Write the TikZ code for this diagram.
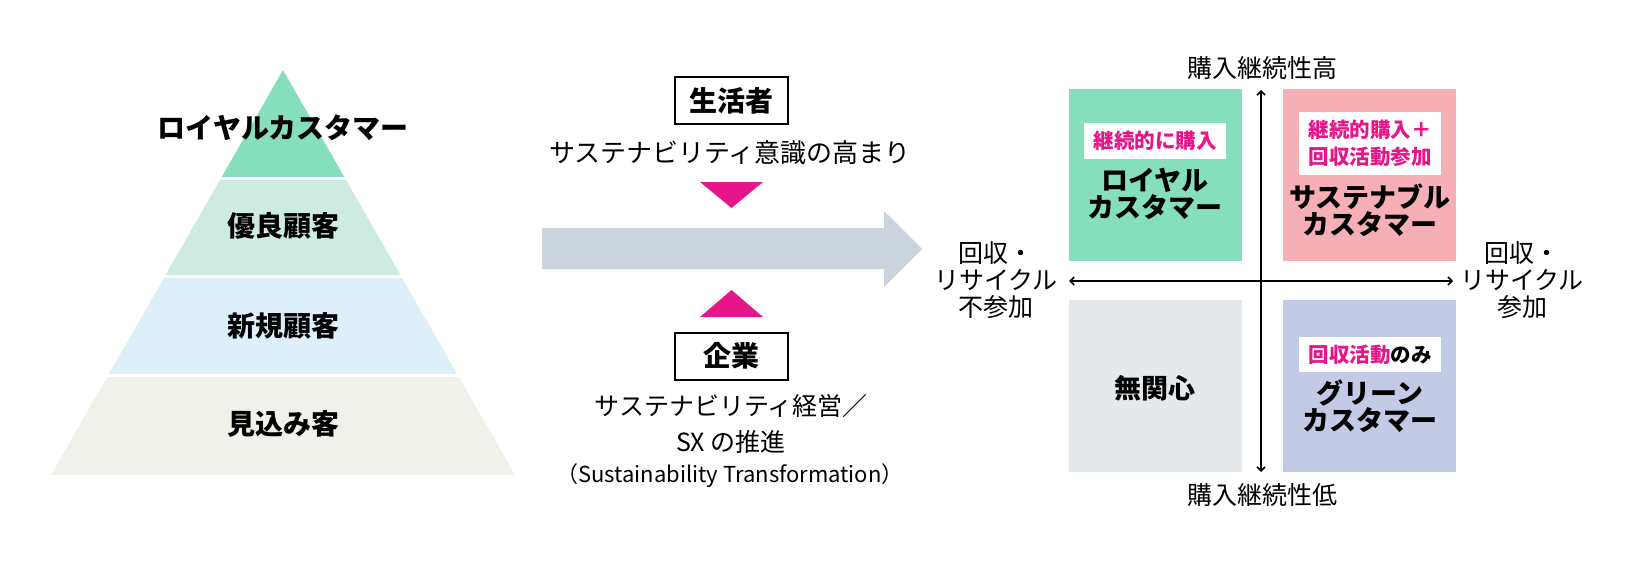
\documentclass[tikz,border=0pt]{standalone}
\usepackage{fontspec}
\setmainfont{Noto Sans CJK JP}
\usetikzlibrary{arrows.meta}
\definecolor{mint}{HTML}{86DFBC}
\definecolor{pyrtwo}{HTML}{CDEBE0}
\definecolor{pyrthree}{HTML}{DDF0F9}
\definecolor{pyrfour}{HTML}{F0F1EA}
\definecolor{pinkq}{HTML}{F7AFB6}
\definecolor{grayq}{HTML}{E6E9EC}
\definecolor{lavq}{HTML}{C2CAE6}
\definecolor{magent}{HTML}{E6168A}
\definecolor{arrowgray}{HTML}{CBD3DC}
\tikzset{
  tiertext/.style={font=\fontsize{28}{30}\selectfont\bfseries, inner sep=0},
  actorbox/.style={draw=black, line width=2pt, minimum width=113, minimum height=47, inner sep=0, font=\fontsize{28}{30}\selectfont\bfseries},
  bodytext/.style={font=\fontsize{25}{36}\selectfont, inner sep=0, align=center},
  quad/.style={inner sep=0, minimum width=173, minimum height=172},
  qname/.style={font=\fontsize{27}{27}\selectfont\bfseries, inner sep=0, align=center},
  tagbox/.style={fill=white, inner sep=0, minimum width=142, align=center, text=magent, font=\fontsize{20.5}{27}\selectfont\bfseries},
  axislabel/.style={font=\fontsize{25}{27}\selectfont, inner sep=0, align=center},
  axisline/.style={line width=1.6pt, {Straight Barb[length=4pt,width=8pt]}-{Straight Barb[length=4pt,width=8pt]}},
  mark tri/.style={fill=magent, draw=none}
}
\begin{document}
\begin{tikzpicture}[x=1pt,y=-1pt]
\useasboundingbox (0,0) rectangle (1628,570);
% pyramid
\begin{scope}
\clip (283,70) -- (515,475) -- (51,475) -- cycle;
\fill[mint] (0,60) rectangle (600,177);
\fill[pyrtwo] (0,180) rectangle (600,275);
\fill[pyrthree] (0,278) rectangle (600,374);
\fill[pyrfour] (0,377) rectangle (600,475);
\end{scope}
\node[tiertext] (t1) at (283,128) {ロイヤルカスタマー};
\node[tiertext] (t2) at (283,226) {優良顧客};
\node[tiertext] (t3) at (283,326) {新規顧客};
\node[tiertext] (t4) at (283,424) {見込み客};
% middle
\node[actorbox] (consumer) at (731.5,100.5) {生活者};
\node[bodytext, font=\fontsize{26}{36}\selectfont] (consumertxt) at (730,153) {サステナビリティ意識の高まり};
\fill[mark tri] (700,182) -- (763,182) -- (731.5,208) -- cycle;
\fill[arrowgray] (542,228) -- (884,228) -- (884,211) -- (922,249) -- (884,287) -- (884,269) -- (542,269) -- cycle;
\fill[mark tri] (700,317) -- (763,317) -- (731.5,290) -- cycle;
\node[actorbox] (company) at (731.5,356) {企業};
\node[bodytext] (companytxt) at (731,424) {サステナビリティ経営／\\SX の推進};
\node[font=\fontsize{22}{24}\selectfont, inner sep=0] (sx) at (730,476) {（Sustainability Transformation）};
% matrix
\node[quad, fill=mint] (q1) at (1155.5,175) {};
\node[quad, fill=pinkq] (q2) at (1369.5,175) {};
\node[quad, fill=grayq] (q3) at (1155.5,386) {};
\node[quad, fill=lavq] (q4) at (1369.5,386) {};
\coordinate (vtop) at (1261,90);
\coordinate (vbot) at (1261,472);
\coordinate (hleft) at (1069,281);
\coordinate (hright) at (1453,281);
\draw[axisline] (hleft) -- (hright);
\draw[axisline] (vtop) -- (vbot);
\node[axislabel] (high) at (1262,68) {購入継続性高};
\node[axislabel] (low) at (1262,495) {購入継続性低};
\node[axislabel] (nonpart) at (996,280) {回収・\\リサイクル\\不参加};
\node[axislabel] (part) at (1522,280) {回収・\\リサイクル\\参加};
\node[tagbox, minimum height=36] (tag1) at (1155,141) {継続的に購入};
\node[qname] (n1) at (1155,193.5) {ロイヤル\\カスタマー};
\node[tagbox, minimum height=63] (tag2) at (1370,143.5) {継続的購入＋\\回収活動参加};
\node[qname] (n2) at (1370,210) {サステナブル\\カスタマー};
\node[qname] (n3) at (1155,388) {無関心};
\node[tagbox, minimum height=35] (tag4) at (1370,354.5) {回収活動\textcolor{black}{のみ}};
\node[qname] (n4) at (1370,406.5) {グリーン\\カスタマー};
\end{tikzpicture}
\end{document}
